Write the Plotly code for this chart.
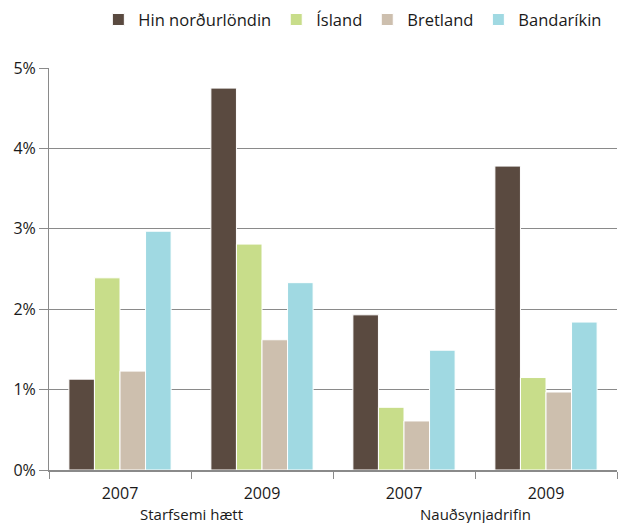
import plotly.graph_objects as go

# gögn lesin af myndinni (%)
ar = ['2007', '2009', '2007', '2009']
flokkar = ['Starfsemi hætt', 'Nauðsynjadrifin']
nordurlond = [1.13, 4.75, 1.93, 3.78]
island = [2.39, 2.81, 0.78, 1.15]
bretland = [1.23, 1.62, 0.61, 0.97]
bandarikin = [2.97, 2.33, 1.49, 1.84]

litir = ['#5a4a40', '#c8dd8a', '#cdbfae', '#a0d9e2']
nofn = ['Hin norðurlöndin', 'Ísland', 'Bretland', 'Bandaríkin']
raðir = [nordurlond, island, bretland, bandarikin]

x = list(range(len(ar)))

fig = go.Figure()
for nafn, gildi, litur in zip(nofn, raðir, litir):
    fig.add_trace(go.Bar(x=x, y=gildi, name=nafn, marker_color=litur,
                         marker_line=dict(color='white', width=1)))

fig.update_layout(
    width=618, height=523,
    margin=dict(l=49, r=1, t=68, b=53),
    plot_bgcolor='white', paper_bgcolor='white',
    barmode='group', bargap=0.28, bargroupgap=0,
    font=dict(family='Open Sans', size=16, color='#1a1a1a', weight=500),
    legend=dict(orientation='h', x=0.983, xanchor='right', y=1.12, yanchor='middle',
                font=dict(size=16.5, weight=500), itemwidth=30, traceorder='normal'),
)

fig.update_yaxes(
    range=[0, 5], tickvals=[0, 1, 2, 3, 4, 5],
    ticktext=['0%', '1%', '2%', '3%', '4%', '5%'],
    showgrid=True, gridcolor='#8a8a8a', gridwidth=1,
    showline=True, linecolor='#8a8a8a', linewidth=1,
    ticks='outside', ticklen=9, tickcolor='#8a8a8a',
    zeroline=False, tickfont=dict(size=16),
)

fig.update_xaxes(
    range=[-0.5, 3.5], tickvals=x, ticktext=ar, ticks='',
    showline=True, linecolor='#8a8a8a', linewidth=2,
    showgrid=False, zeroline=False, tickfont=dict(size=16),
    ticklabelstandoff=8,
    minor=dict(tickvals=[-0.5, 0.5, 1.5, 2.5, 3.5], ticks='outside',
               ticklen=7, tickcolor='#8a8a8a', showgrid=False),
)

for i, flokkur in enumerate(flokkar):
    fig.add_annotation(x=2 * i + 0.5, xref='x', y=-0.109, yref='paper',
                       text=flokkur, showarrow=False, yanchor='middle',
                       font=dict(size=15))

# engin spássía á síðunni svo myndin fylli gluggann
fig.write_html('out.html', config={'displayModeBar': False},
               post_script="document.body.style.margin='0';")
